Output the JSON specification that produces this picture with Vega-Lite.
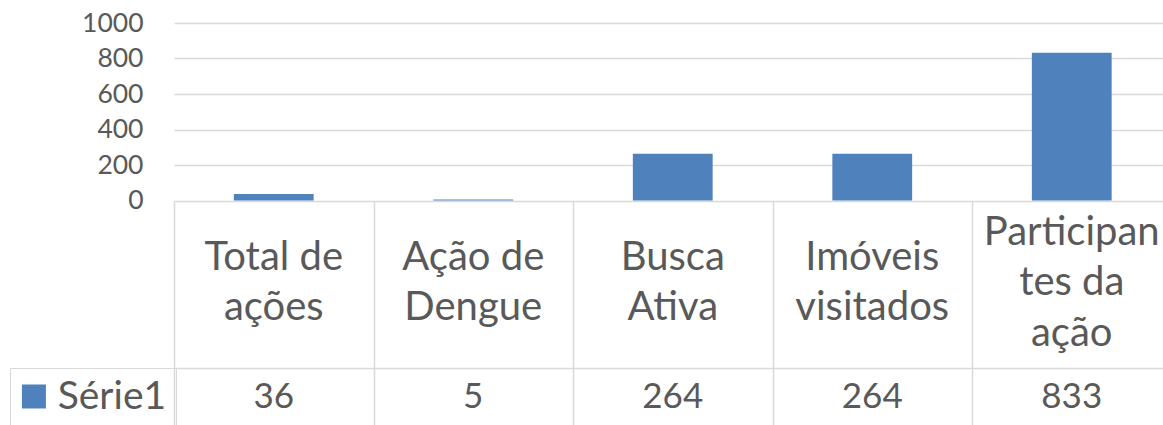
{
  "$schema": "https://vega.github.io/schema/vega-lite/v6.json",
  "padding": {"left": 9, "top": 10, "right": 0, "bottom": 0},
  "autosize": {"type": "pad"},
  "background": "white",
  "bounds": "flush",
  "spacing": 0,
  "config": {"view": {"stroke": null}, "font": "Lato"},
  "datasets": {
    "d": [
      {"cat": "Total de\nações", "value": 36, "series": "Série1"},
      {"cat": "Ação de\nDengue", "value": 5, "series": "Série1"},
      {"cat": "Busca\nAtiva", "value": 264, "series": "Série1"},
      {"cat": "Imóveis\nvisitados", "value": 264, "series": "Série1"},
      {"cat": "Participan\ntes da\nação", "value": 833, "series": "Série1"}
    ]
  },
  "vconcat": [
    {
      "width": 997.5,
      "height": 177.5,
      "data": {"name": "d"},
      "mark": {"type": "bar"},
      "encoding": {
        "x": {"field": "cat", "type": "nominal", "sort": null, "scale": {"paddingInner": 0.6, "paddingOuter": 0.3}, "axis": null},
        "y": {"field": "value", "type": "quantitative", "scale": {"domain": [0, 1000]},
          "axis": {"values": [0, 200, 400, 600, 800, 1000], "format": "d", "domain": false, "ticks": false, "labelFontSize": 26.5, "labelColor": "#595959", "labelPadding": 31, "gridColor": "#D9D9D9", "gridWidth": 1.5, "title": null}},
        "color": {"field": "series", "type": "nominal", "scale": {"range": ["#4F81BD"]},
          "legend": {"orient": "none", "legendX": -164, "legendY": 345, "title": null, "symbolType": "square", "symbolSize": 576, "symbolStrokeWidth": 0, "labelFontSize": 39, "labelColor": "#595959", "labelFont": "Lato", "padding": 9, "strokeColor": "#D9D9D9", "symbolOffset": -4.6, "labelOffset": 4.3}}
      }
    },
    {
      "width": 997.5,
      "height": 167,
      "data": {"name": "d"},
      "mark": {"type": "text", "fontSize": 40, "color": "#595959", "lineBreak": "\n", "lineHeight": 50.5, "baseline": "middle", "font": "Lato",
        "dy": {"expr": "-(length(split(datum.cat, '\\n')) - 1) * 25.25 - 1.5"}},
      "encoding": {
        "x": {"field": "cat", "type": "nominal", "sort": null, "scale": {"paddingInner": 0, "paddingOuter": 0},
          "axis": {"labels": false, "ticks": false, "domain": false, "title": null, "grid": true, "gridColor": "#D9D9D9", "gridWidth": 1.5, "tickBand": "extent"}},
        "text": {"field": "cat"}
      }
    },
    {
      "width": 997.5,
      "height": 57,
      "data": {"name": "d"},
      "mark": {"type": "text", "fontSize": 35, "color": "#595959", "baseline": "middle", "font": "Lato"},
      "encoding": {
        "x": {"field": "cat", "type": "nominal", "sort": null, "scale": {"paddingInner": 0, "paddingOuter": 0},
          "axis": {"orient": "top", "labels": false, "ticks": false, "domain": true, "domainColor": "#D9D9D9", "domainWidth": 1.5, "title": null, "grid": true, "gridColor": "#D9D9D9", "gridWidth": 1.5, "tickBand": "extent"}},
        "text": {"field": "value", "type": "quantitative"}
      }
    }
  ]
}
